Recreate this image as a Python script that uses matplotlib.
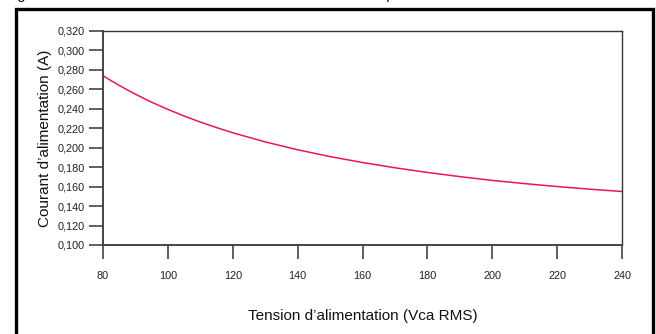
import matplotlib
matplotlib.use("Agg")
import matplotlib.pyplot as plt
from matplotlib.patches import Rectangle
from matplotlib.ticker import FuncFormatter

voltage = [80, 85, 90, 95, 100, 105, 110, 115, 120, 130, 140, 150, 160, 170, 180,
           190, 200, 210, 220, 230, 240]
current = [0.2740, 0.2640, 0.2550, 0.2468, 0.2394, 0.2326, 0.2264, 0.2207, 0.2154,
           0.2060, 0.1979, 0.1909, 0.1848, 0.1794, 0.1746, 0.1703, 0.1664, 0.1631,
           0.1601, 0.1574, 0.1550]
xticks = [80, 100, 120, 140, 160, 180, 200, 220, 240]
yticks = [0.100, 0.120, 0.140, 0.160, 0.180, 0.200, 0.220, 0.240, 0.260, 0.280, 0.300, 0.320]

plt.rcParams['font.family'] = ['Liberation Sans', 'DejaVu Sans']

W, H = 656, 334
fig = plt.figure(figsize=(W / 100, H / 100), dpi=100)
ax = fig.add_axes([103 / W, 1 - 245 / H, (622 - 103) / W, (245 - 31) / H])

ax.plot(voltage, current, color='#e5175a', lw=1.1, solid_joinstyle='round')
ax.set_xlim(80, 240)
ax.set_ylim(0.100, 0.320)
ax.set_xticks(xticks)
ax.set_yticks(yticks)
ax.yaxis.set_major_formatter(FuncFormatter(lambda v, p: f"{v:.3f}".replace('.', ',')))
ax.tick_params(axis='both', direction='out', length=10, width=1.2, color='#444444',
               labelsize=7.8, labelcolor='#222222', pad=3)
ax.tick_params(axis='x', pad=9)
for s in ['left', 'bottom']:
    ax.spines[s].set_linewidth(1.4)
    ax.spines[s].set_color('#444444')
for s in ['top', 'right']:
    ax.spines[s].set_linewidth(1.0)
    ax.spines[s].set_color('#333333')

ax.set_xlabel("Tension d’alimentation (Vca RMS)", fontsize=11, color='#111111', labelpad=20)
ax.set_ylabel("Courant d’alimentation (A)", fontsize=11, color='#111111', labelpad=4)

# outer frame
fig.patches.append(Rectangle((15.5 / W, -0.05), (653 - 15.5) / W, 1.05 - 9 / H,
                             transform=fig.transFigure, fill=False, lw=2.4,
                             edgecolor='black', zorder=10))

# top caption (mostly cut off, as in the reference)
fig.text(5 / W, 1 + 1 / H, "Figure 3 : Courant d’alimentation en fonction de la tension pour",
         fontsize=10.5, va='baseline', ha='left', color='black')

fig.savefig("out.png", dpi=100)
